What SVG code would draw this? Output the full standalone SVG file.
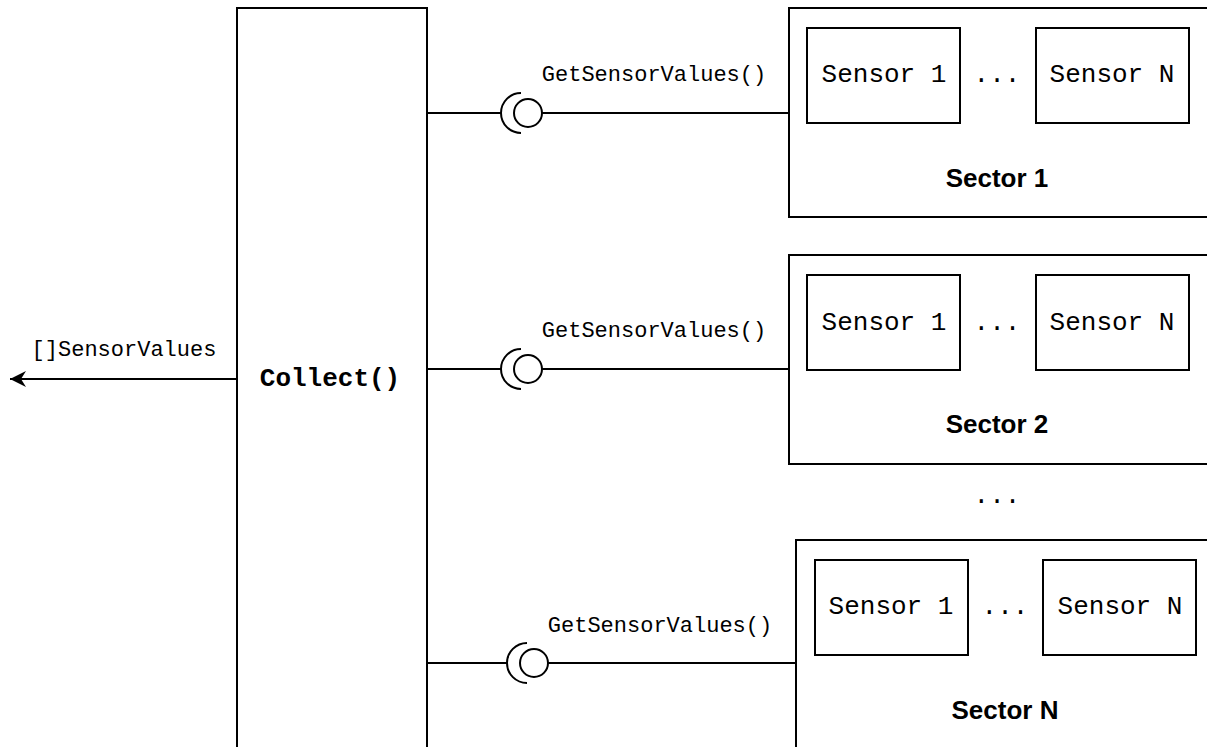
<svg xmlns="http://www.w3.org/2000/svg" width="1207" height="747" viewBox="0 0 1207 747">
<style>
.box{fill:#fff;stroke:#000;stroke-width:2}
.ln{fill:none;stroke:#000;stroke-width:2}
.mono{font-family:"Liberation Mono","Courier New",monospace;fill:#000}
.lbl{font-size:22px}
.sen{font-size:26px}
.title{font-family:"Liberation Sans",Arial,sans-serif;font-weight:bold;font-size:26px;fill:#000}
</style>
<defs>
<marker id="arr" viewBox="0 0 20 20" refX="18" refY="10" markerWidth="20" markerHeight="20" markerUnits="userSpaceOnUse" orient="auto">
<path d="M2,2 L18,10 L2,18 L7,10 Z" fill="#000"/>
</marker>
</defs>
<rect width="1207" height="747" fill="#fff"/>
<g id="collect">
<path class="ln" d="M237,760 L237,8 L427,8 L427,760"/>
<text class="mono" x="330" y="386" font-size="26" font-weight="bold" text-anchor="middle">Collect()</text>
</g>
<g id="sector1">
<rect class="box" x="789" y="8" width="430" height="209"/>
<rect class="box" x="807" y="28" width="153" height="95"/>
<text class="mono sen" x="884" y="82" text-anchor="middle">Sensor 1</text>
<text class="mono sen" x="997" y="82" text-anchor="middle">...</text>
<rect class="box" x="1036" y="28" width="153" height="95"/>
<text class="mono sen" x="1112" y="82" text-anchor="middle">Sensor N</text>
<text class="title" x="997" y="187" text-anchor="middle">Sector 1</text>
</g>
<g id="sector2">
<rect class="box" x="789" y="255" width="430" height="209"/>
<rect class="box" x="807" y="275" width="153" height="95"/>
<text class="mono sen" x="884" y="330" text-anchor="middle">Sensor 1</text>
<text class="mono sen" x="997" y="330" text-anchor="middle">...</text>
<rect class="box" x="1036" y="275" width="153" height="95"/>
<text class="mono sen" x="1112" y="330" text-anchor="middle">Sensor N</text>
<text class="title" x="997" y="433" text-anchor="middle">Sector 2</text>
</g>
<g id="sectorN">
<rect class="box" x="796" y="540" width="430" height="230"/>
<rect class="box" x="815" y="560" width="153" height="95"/>
<text class="mono sen" x="891" y="614" text-anchor="middle">Sensor 1</text>
<text class="mono sen" x="1005" y="614" text-anchor="middle">...</text>
<rect class="box" x="1043" y="560" width="153" height="95"/>
<text class="mono sen" x="1120" y="614" text-anchor="middle">Sensor N</text>
<text class="title" x="1005" y="719" text-anchor="middle">Sector N</text>
</g>
<g id="ellipsis">
<text class="mono sen" x="997" y="503" text-anchor="middle">...</text>
</g>
<g id="connectors">
<path class="ln" d="M237,379 L10,379" marker-end="url(#arr)"/>
<text class="mono lbl" x="124" y="356" text-anchor="middle">[]SensorValues</text>
<path class="ln" d="M427,113 L502,113"/>
<path class="ln" d="M521,93 A20,20 0 0 0 521,133"/>
<circle class="ln" cx="528" cy="113" r="14"/>
<path class="ln" d="M542,113 L789,113"/>
<text class="mono lbl" x="654" y="81" text-anchor="middle">GetSensorValues()</text>
<path class="ln" d="M427,369 L502,369"/>
<path class="ln" d="M521,349 A20,20 0 0 0 521,389"/>
<circle class="ln" cx="528" cy="369" r="14"/>
<path class="ln" d="M542,369 L789,369"/>
<text class="mono lbl" x="654" y="337" text-anchor="middle">GetSensorValues()</text>
<path class="ln" d="M427,663 L508,663"/>
<path class="ln" d="M527,643 A20,20 0 0 0 527,683"/>
<circle class="ln" cx="534" cy="663" r="14"/>
<path class="ln" d="M548,663 L796,663"/>
<text class="mono lbl" x="660" y="632" text-anchor="middle">GetSensorValues()</text>
</g>
</svg>
